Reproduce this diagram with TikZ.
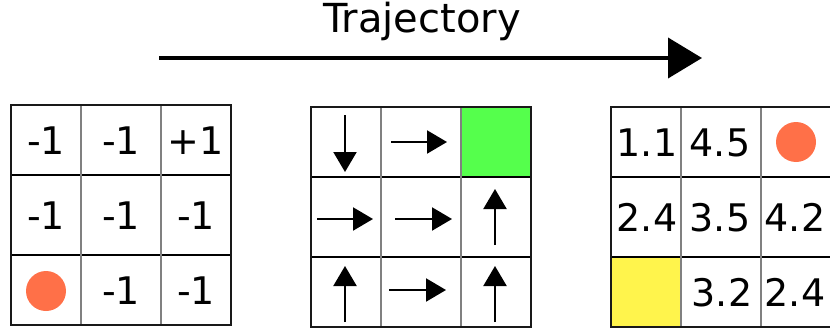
\documentclass[tikz,border=0pt]{standalone}
\usepackage{fontspec}
\setmainfont{DejaVu Sans}
\usetikzlibrary{arrows.meta}

\definecolor{dotred}{HTML}{FF7048}
\definecolor{goalgreen}{HTML}{55FF4C}
\definecolor{startyellow}{HTML}{FFF44C}
\definecolor{innergray}{HTML}{808080}

% three-by-three grid: #1..#4 column edges, #5..#8 row edges
\newcommand{\gridframe}[8]{%
  \draw[rowline] (#1,#6) -- (#4,#6) (#1,#7) -- (#4,#7);
  \draw[colline] (#2,#5) -- (#2,#8) (#3,#5) -- (#3,#8);
  \draw[frameline] (#1,#5) rectangle (#4,#8);
}

\tikzset{
  x=1pt, y=-1pt,
  cellnum/.style={anchor=base, inner sep=0pt, font=\fontsize{38}{40}\selectfont},
  titletext/.style={anchor=base, inner sep=0pt, font=\fontsize{40}{42}\selectfont},
  dot/.style={circle, fill=dotred, draw=none, minimum size=40pt, inner sep=0pt},
  rowline/.style={line width=1.3pt, black},
  colline/.style={line width=1.8pt, innergray},
  frameline/.style={line width=1.8pt, black!90},
  bigarrow/.style={line width=4pt, -{Triangle[length=34pt,width=40pt]}},
  policy/.style={line width=2.2pt, -{Triangle[length=20pt,width=23pt]}},
}

\begin{document}
\begin{tikzpicture}
\useasboundingbox (0,0) rectangle (830,332);
\clip (0,0) rectangle (830,332);

% title and trajectory arrow
\node[titletext] (title) at (422,32) {Trajectory};
\coordinate (trajstart) at (159,58);
\coordinate (trajend) at (702,58);
\draw[bigarrow] (trajstart) -- (trajend);

% ---- left grid: rewards ----
\gridframe{11}{81}{161}{231}{105}{175}{255}{325}
\node[cellnum] (r11) at (46,154) {-1};
\node[cellnum] (r12) at (121,154) {-1};
\node[cellnum] (r13) at (196,154) {+1};
\node[cellnum] (r21) at (46,229) {-1};
\node[cellnum] (r22) at (121,229) {-1};
\node[cellnum] (r23) at (196,229) {-1};
\node[dot] (agentA) at (46,291) {};
\node[cellnum] (r32) at (121,304) {-1};
\node[cellnum] (r33) at (196,304) {-1};

% ---- middle grid: policy ----
\fill[goalgreen] (461,107) rectangle (531,177);
\gridframe{311}{381}{461}{531}{107}{177}{257}{327}
\coordinate (p11a) at (345,115);  \coordinate (p11b) at (345,172);
\coordinate (p12a) at (391,142);  \coordinate (p12b) at (447,142);
\coordinate (p21a) at (317,219);  \coordinate (p21b) at (373,219);
\coordinate (p22a) at (395,219);  \coordinate (p22b) at (452,219);
\coordinate (p23a) at (495,245);  \coordinate (p23b) at (495,189);
\coordinate (p31a) at (345,322);  \coordinate (p31b) at (345,266);
\coordinate (p32a) at (389,290);  \coordinate (p32b) at (446,290);
\coordinate (p33a) at (495,322);  \coordinate (p33b) at (495,266);
\draw[policy] (p11a) -- (p11b);
\draw[policy] (p12a) -- (p12b);
\draw[policy] (p21a) -- (p21b);
\draw[policy] (p22a) -- (p22b);
\draw[policy] (p23a) -- (p23b);
\draw[policy] (p31a) -- (p31b);
\draw[policy] (p32a) -- (p32b);
\draw[policy] (p33a) -- (p33b);

% ---- right grid: values ----
\fill[startyellow] (611,257) rectangle (681,327);
\gridframe{611}{681}{761}{831}{107}{177}{257}{327}
\node[cellnum] (v11) at (647,156) {1.1};
\node[cellnum] (v12) at (720,156) {4.5};
\node[dot] (agentB) at (796,142) {};
\node[cellnum] (v21) at (647,231) {2.4};
\node[cellnum] (v22) at (720,231) {3.5};
\node[cellnum] (v23) at (795,231) {4.2};
\node[cellnum] (v32) at (722,306) {3.2};
\node[cellnum] (v33) at (795,306) {2.4};
\end{tikzpicture}
\end{document}
